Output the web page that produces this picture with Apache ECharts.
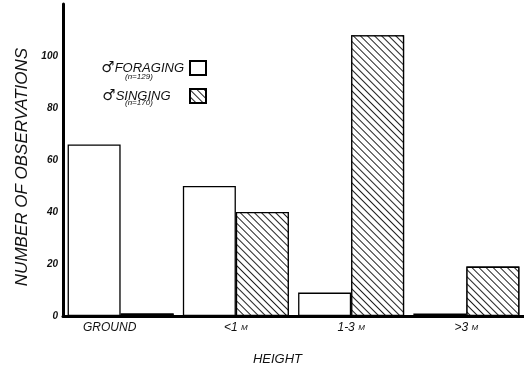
<!DOCTYPE html>
<html>
<head>
<meta charset="utf-8">
<script src="https://cdn.jsdelivr.net/npm/echarts@6/dist/echarts.min.js"></script>
<style>
html,body{margin:0;padding:0;background:#fff;}
#chart{width:524px;height:376px;}
</style>
</head>
<body>
<div id="chart"></div>
<script>
var categories = ['GROUND', '<1M', '1-3M', '>3M'];
var foraging = [66, 50, 9, 1];
var singing = [1, 40, 108, 19];
var seriesNames = ['FORAGING', 'SINGING'];
var sampleSizes = [129, 170];
var yTicks = [0, 20, 40, 60, 80, 100];

var FONT = '"Liberation Sans", "DejaVu Sans", sans-serif';
var LEGEND_FONT = 'italic 13px ' + FONT;
var chart = echarts.init(document.getElementById('chart'));

var hatch = {
  symbol: 'rect',
  symbolSize: 1,
  dashArrayX: [1, 0],
  dashArrayY: [1, 3.8],
  rotation: Math.PI / 4,
  color: '#222',
  backgroundColor: '#fff'
};

// pad legend labels so they are left-aligned while icons sit on the right
var measureCtx = document.createElement('canvas').getContext('2d');
measureCtx.font = LEGEND_FONT;
var nameWidths = seriesNames.map(function (n) { return measureCtx.measureText(n).width; });
var maxNameWidth = Math.max.apply(null, nameWidths);
var legendRich = {
  s: { fontFamily: '"DejaVu Sans", sans-serif', fontSize: 15, color: '#111' },
  t: { fontFamily: FONT, fontStyle: 'italic', fontSize: 13, color: '#111' }
};
seriesNames.forEach(function (n, i) {
  legendRich['p' + i] = { width: Math.max(1, maxNameWidth - nameWidths[i]), fontSize: 13 };
});

var option = {
  animation: false,
  backgroundColor: '#fff',
  grid: { left: 63, right: 0, top: 4, bottom: 60 },
  legend: {
    orient: 'vertical',
    right: 317,
    top: 60,
    padding: 0,
    align: 'right',
    icon: 'rect',
    itemWidth: 16,
    itemHeight: 14,
    itemGap: 12,
    data: seriesNames,
    formatter: function (n) {
      var i = seriesNames.indexOf(n);
      return '{s|\u2642}{t|' + n + '}{p' + i + '|}';
    },
    textStyle: { color: '#111', rich: legendRich }
  },
  graphic: [
    { type: 'text', left: 125, top: 73, style: { text: '(n=' + sampleSizes[0] + ')', font: 'italic 8px ' + FONT, fill: '#111' } },
    { type: 'text', left: 125, top: 99, style: { text: '(n=' + sampleSizes[1] + ')', font: 'italic 8px ' + FONT, fill: '#111' } }
  ],
  xAxis: {
    type: 'category',
    data: categories,
    name: 'HEIGHT',
    nameLocation: 'middle',
    nameGap: 37,
    nameTextStyle: { fontFamily: FONT, fontStyle: 'italic', fontSize: 13, color: '#111', padding: [0, 32, 0, 0] },
    axisLine: { lineStyle: { color: '#000', width: 3 } },
    axisTick: { show: false },
    axisLabel: {
      margin: 6,
      formatter: function (v) {
        if (v.slice(-1) === 'M') return '{a|' + v.slice(0, -1) + ' }{m|M}';
        return '{g|' + v + '}';
      },
      rich: {
        a: { fontFamily: FONT, fontStyle: 'italic', fontSize: 12, color: '#111' },
        g: { fontFamily: FONT, fontStyle: 'italic', fontSize: 12, color: '#111', padding: [0, 22, 0, 0] },
        m: { fontFamily: FONT, fontStyle: 'italic', fontSize: 8, color: '#111' }
      }
    }
  },
  yAxis: {
    type: 'value',
    min: 0,
    max: 120,
    interval: 20,
    name: 'NUMBER OF OBSERVATIONS',
    nameLocation: 'middle',
    nameGap: 32,
    nameTextStyle: { fontFamily: FONT, fontStyle: 'italic', fontSize: 17, color: '#111', padding: [0, 14, 0, 0] },
    axisLine: { show: true, lineStyle: { color: '#000', width: 3 } },
    axisTick: { show: false },
    splitLine: { show: false },
    axisLabel: {
      margin: 5,
      fontFamily: FONT, fontStyle: 'italic', fontWeight: 'bold', fontSize: 10, color: '#111',
      formatter: function (v) { return yTicks.indexOf(v) >= 0 ? String(v) : ''; }
    }
  },
  series: [
    {
      name: seriesNames[0],
      type: 'bar',
      data: foraging,
      barGap: '0%',
      barCategoryGap: '8%',
      itemStyle: { color: '#fff', borderColor: '#000', borderWidth: 1.3 }
    },
    {
      name: seriesNames[1],
      type: 'bar',
      data: singing,
      barGap: '0%',
      barCategoryGap: '8%',
      itemStyle: { color: '#fff', borderColor: '#000', borderWidth: 1.3, decal: hatch }
    }
  ]
};
chart.setOption(option);
</script>
</body>
</html>
